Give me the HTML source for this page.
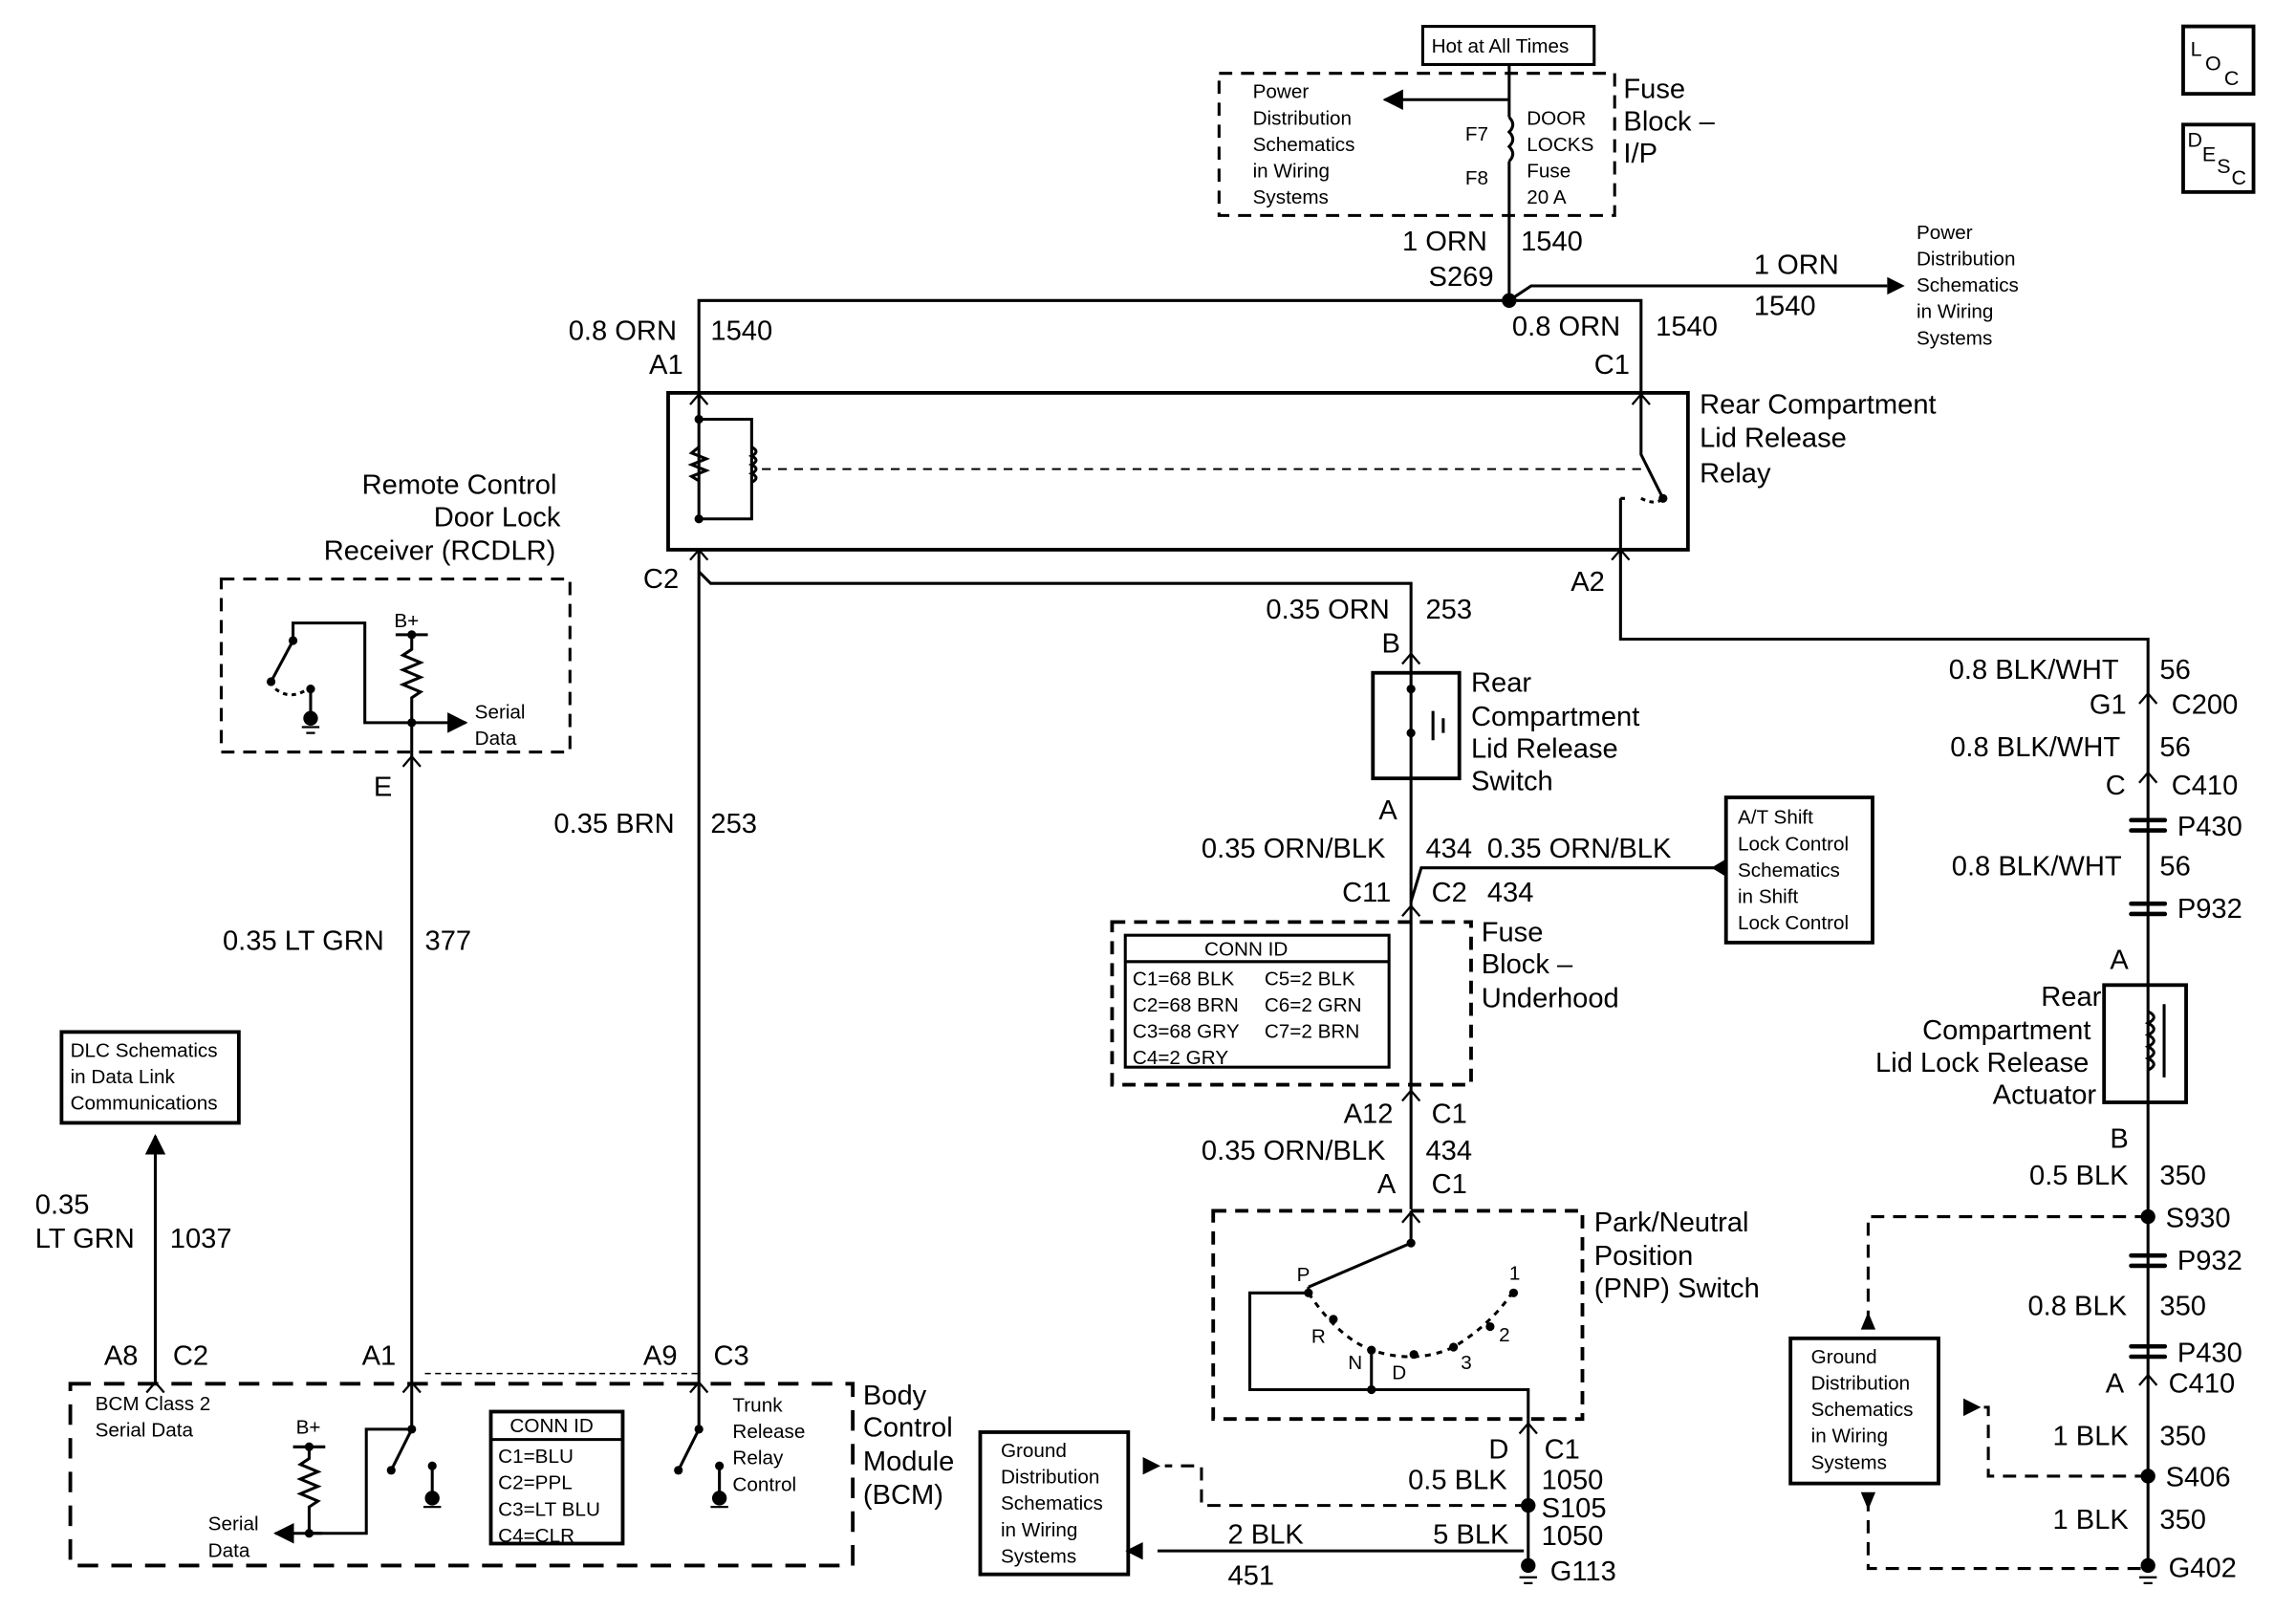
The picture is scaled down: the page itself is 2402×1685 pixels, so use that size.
<!DOCTYPE html>
<html><head><meta charset="utf-8"><style>
html,body{margin:0;padding:0;background:#fff}
svg{display:block}
text{font-family:"Liberation Sans",sans-serif;fill:#000}
.L{font-size:19px}
.S{font-size:13.5px}
</style></head><body>
<svg width="2402" height="1685" viewBox="0 0 1567 1099" preserveAspectRatio="none" xmlns="http://www.w3.org/2000/svg">
<defs>
<marker id="ar" viewBox="0 0 10 10" refX="9" refY="5" markerWidth="7" markerHeight="7" orient="auto-start-reverse"><path d="M0,0L10,5L0,10z" fill="#000"/></marker>
</defs>
<g fill="none" stroke="#000" stroke-width="2">
<rect x="971" y="18" width="117" height="26"/>
<rect x="832" y="50" width="270" height="97" stroke-dasharray="9,6"/>
<line x1="1030" y1="44" x2="1030" y2="80"/>
<path d="M1030,80 q5,5 0,10 q5,5 0,10 q5,5 0,10"/>
<line x1="1030" y1="110" x2="1030" y2="205"/>
<line x1="1030" y1="68" x2="945" y2="68" marker-end="url(#ar)"/>
<path d="M477,268V205H1120V268"/>
<path d="M1030,205L1045,195H1288"/>
<rect x="456" y="268" width="696" height="107" stroke-width="2.5"/>
<path d="M477,268v85M477,286h36v68h-36"/>
<path d="M477,305l-5,4l10,4l-10,4l10,4l-10,4l5,3" />
<path d="M513,305q6,3 0,6q6,3 0,6q6,3 0,6q6,3 0,6"/>
<line x1="520" y1="320" x2="1120" y2="320" stroke-dasharray="6,5" stroke-width="1.3"/>
<path d="M1120,268v42l15,30M1106,340v40"/>
<path d="M1106,340h5M1120,340q10,5 15,0" stroke-dasharray="3,3"/>
<path d="M477,375V945"/>
<path d="M477,390l8,8H963V445"/>
<path d="M1106,375V436H1466V1070"/>
<rect x="151" y="395" width="238" height="118" stroke-dasharray="9,6"/>
<path d="M200,437V425H249V493H281"/>
<path d="M200,437l-15,28M212,470v18"/>
<path d="M188,470q10,8 22,0" stroke-dasharray="3,3"/>
<path d="M270,433h22M281,433v10l-6,4l12,5l-12,5l12,5l-12,5l12,5l-6,4v16"/>
<line x1="281" y1="493" x2="318" y2="493" marker-end="url(#ar)"/>
<path d="M281,493V945"/>
<rect x="42" y="704" width="121" height="62" stroke-width="2.5"/>
<line x1="106" y1="945" x2="106" y2="775" marker-end="url(#ar)"/>
<rect x="48" y="944" width="534" height="124" stroke-dasharray="14,9" stroke-width="2.5"/>
<line x1="290" y1="937" x2="477" y2="937" stroke-dasharray="4,3" stroke-width="1"/>
<path d="M281,945V975H250V1046H210"/>
<line x1="220" y1="1046" x2="188" y2="1046" marker-end="url(#ar)"/>
<path d="M200,987h22M211,987v8l-6,4l12,5l-12,5l12,5l-12,5l12,5l-6,4v18"/>
<path d="M281,975l-14,28M295,1000v20"/>
<rect x="335" y="963" width="90" height="90" stroke-width="2.5"/>
<line x1="335" y1="982" x2="425" y2="982"/>
<path d="M477,945V975l-14,28M491,1000v20"/>
<rect x="937" y="459" width="59" height="72" stroke-width="2.5"/>
<path d="M963,445V531M963,470v15M963,500v15M978,485v20M985,490v10"/>
<path d="M963,531V825"/>
<rect x="759" y="629" width="245" height="111" stroke-dasharray="9,6" stroke-width="2.5"/>
<rect x="768" y="638" width="180" height="90" stroke-width="2"/>
<line x1="768" y1="656" x2="948" y2="656"/>
<rect x="1178" y="544" width="100" height="99" stroke-width="2.5"/>
<path d="M1170,592H970L963,615"/>
<rect x="828" y="826" width="252" height="142" stroke-dasharray="9,6" stroke-width="2.5"/>
<path d="M963,826V848l-70,30"/>
<path d="M893,878V882H853V948H936V921M936,948H1043V968"/>
<path d="M893,882q20,30 43,39q30,10 56,-2q25,-15 40,-37" stroke-dasharray="4,4"/>
<path d="M1043,968V1070"/>
<rect x="1436" y="672" width="56" height="80" stroke-width="2.5"/>
<path d="M1466,690q8,4 0,8q8,4 0,8q8,4 0,8q8,4 0,8q8,4 0,8M1477,685v50"/>
<path d="M1466,830H1275V905" stroke-dasharray="9,6"/>
<rect x="1222" y="913" width="101" height="99" stroke-width="2.5"/>
<path d="M1466,1007H1357V960H1352" stroke-dasharray="9,6"/>
<path d="M1275,1022V1070H1466" stroke-dasharray="9,6"/>
<rect x="669" y="977" width="101" height="97" stroke-width="2.5"/>
<path d="M1043,1027H820V1000H795" stroke-dasharray="9,6"/>
<path d="M1040,1058H790"/>
<rect x="1490" y="18" width="48" height="46" stroke-width="2.5"/>
<rect x="1490" y="85" width="48" height="46" stroke-width="2.5"/>
</g>
<g fill="#000">
<path d="M1288,189l12,6l-12,6z"/>
<path d="M1168,586l10,6l-10,6z" transform="rotate(180 1173 592)"/>
<path d="M780,994l12,6l-12,6z"/>
<path d="M780,1052l-12,6l12,6z"/>
<path d="M1270,907h10l-5,-12z"/>
<path d="M1270,1018h10l-5,12z"/>
<path d="M1340,954v12l12,-6z"/>
<circle cx="1030" cy="205" r="5"/><circle cx="1466" cy="830" r="5"/><circle cx="1466" cy="1007" r="5"/><circle cx="1043" cy="1027" r="5"/>
<circle cx="1043" cy="1068" r="5"/><circle cx="1466" cy="1068" r="5"/>
<circle cx="477" cy="286" r="3"/><circle cx="477" cy="354" r="3"/><circle cx="1135" cy="340" r="3"/>
<circle cx="200" cy="437" r="3"/><circle cx="185" cy="465" r="3"/><circle cx="212" cy="470" r="3"/><circle cx="212" cy="490" r="5"/><circle cx="281" cy="433" r="3"/><circle cx="281" cy="493" r="3"/>
<circle cx="281" cy="975" r="3"/><circle cx="267" cy="1003" r="3"/><circle cx="295" cy="1000" r="3"/><circle cx="295" cy="1022" r="5"/><circle cx="211" cy="987" r="3"/><circle cx="211" cy="1046" r="3"/>
<circle cx="477" cy="975" r="3"/><circle cx="463" cy="1003" r="3"/><circle cx="491" cy="1000" r="3"/><circle cx="491" cy="1022" r="5"/>
<circle cx="963" cy="470" r="3"/><circle cx="963" cy="500" r="3"/>
<circle cx="963" cy="848" r="3"/><circle cx="893" cy="882" r="3"/><circle cx="936" cy="921" r="3"/><circle cx="936" cy="948" r="3"/><circle cx="965" cy="924" r="3"/><circle cx="992" cy="919" r="3"/><circle cx="1017" cy="905" r="3"/><circle cx="1033" cy="882" r="3"/><circle cx="910" cy="900" r="3"/>
<rect x="1453" y="558" width="26" height="3" rx="1.5"/><rect x="1453" y="565" width="26" height="3" rx="1.5"/>
<rect x="1453" y="615" width="26" height="3" rx="1.5"/><rect x="1453" y="622" width="26" height="3" rx="1.5"/>
<rect x="1453" y="855" width="26" height="3" rx="1.5"/><rect x="1453" y="862" width="26" height="3" rx="1.5"/>
<rect x="1453" y="917" width="26" height="3" rx="1.5"/><rect x="1453" y="924" width="26" height="3" rx="1.5"/>
</g>
<g fill="none" stroke="#000" stroke-width="1.5">
<path d="M471,276l6,-7l6,7M471,382l6,-7l6,7M1114,276l6,-7l6,7M1100,382l6,-7l6,7M957,453l6,-7l6,7M957,625l6,-7l6,7M957,751l6,-7l6,7M957,834l6,-7l6,7"/>
<path d="M275,523l6,-7l6,7M275,950l6,-7l6,7M471,950l6,-7l6,7M100,950l6,-7l6,7M1460,480l6,-7l6,7M1460,534l6,-7l6,7M1037,978l6,-7l6,7M1460,945l6,-7l6,7"/>
<path d="M1037,1076h12M1040,1080h6M1460,1076h12M1463,1080h6M206,496h12M209,500h6M289,1028h12M485,1028h12"/>
</g>
<g class="S">
<text x="977" y="36">Hot at All Times</text>
<text x="855" y="67">Power</text><text x="855" y="85">Distribution</text><text x="855" y="103">Schematics</text><text x="855" y="121">in Wiring</text><text x="855" y="139">Systems</text>
<text x="1000" y="96">F7</text><text x="1000" y="126">F8</text>
<text x="1042" y="85">DOOR</text><text x="1042" y="103">LOCKS</text><text x="1042" y="121">Fuse</text><text x="1042" y="139">20 A</text>
<text x="1308" y="163">Power</text><text x="1308" y="181">Distribution</text><text x="1308" y="199">Schematics</text><text x="1308" y="217">in Wiring</text><text x="1308" y="235">Systems</text>
<text x="269" y="428">B+</text><text x="324" y="490">Serial</text><text x="324" y="508">Data</text>
<text x="48" y="721">DLC Schematics</text><text x="48" y="739">in Data Link</text><text x="48" y="757">Communications</text>
<text x="65" y="962">BCM Class 2</text><text x="65" y="980">Serial Data</text>
<text x="202" y="978">B+</text><text x="142" y="1044">Serial</text><text x="142" y="1062">Data</text>
<text x="348" y="977">CONN ID</text><text x="340" y="998">C1=BLU</text><text x="340" y="1016">C2=PPL</text><text x="340" y="1034">C3=LT BLU</text><text x="340" y="1052">C4=CLR</text>
<text x="500" y="963">Trunk</text><text x="500" y="981">Release</text><text x="500" y="999">Relay</text><text x="500" y="1017">Control</text>
<text x="822" y="652">CONN ID</text>
<text x="773" y="672">C1=68 BLK</text><text x="863" y="672">C5=2 BLK</text>
<text x="773" y="690">C2=68 BRN</text><text x="863" y="690">C6=2 GRN</text>
<text x="773" y="708">C3=68 GRY</text><text x="863" y="708">C7=2 BRN</text>
<text x="773" y="726">C4=2 GRY</text>
<text x="1186" y="562">A/T Shift</text><text x="1186" y="580">Lock Control</text><text x="1186" y="598">Schematics</text><text x="1186" y="616">in Shift</text><text x="1186" y="634">Lock Control</text>
<text x="885" y="874">P</text><text x="895" y="916">R</text><text x="920" y="934">N</text><text x="950" y="941">D</text><text x="997" y="934">3</text><text x="1023" y="915">2</text><text x="1030" y="873">1</text>
<text x="1236" y="930">Ground</text><text x="1236" y="948">Distribution</text><text x="1236" y="966">Schematics</text><text x="1236" y="984">in Wiring</text><text x="1236" y="1002">Systems</text>
<text x="683" y="994">Ground</text><text x="683" y="1012">Distribution</text><text x="683" y="1030">Schematics</text><text x="683" y="1048">in Wiring</text><text x="683" y="1066">Systems</text>
</g>
<g class="L">
<text x="1108" y="67">Fuse</text><text x="1108" y="89">Block –</text><text x="1108" y="111">I/P</text>
<text x="957" y="171">1 ORN</text><text x="1038" y="171">1540</text>
<text x="975" y="195">S269</text>
<text x="1197" y="187">1 ORN</text><text x="1197" y="215">1540</text>
<text x="388" y="232">0.8 ORN</text><text x="485" y="232">1540</text><text x="443" y="255">A1</text>
<text x="1032" y="229">0.8 ORN</text><text x="1130" y="229">1540</text><text x="1088" y="255">C1</text>
<text x="1160" y="282">Rear Compartment</text><text x="1160" y="305">Lid Release</text><text x="1160" y="329">Relay</text>
<text x="247" y="337">Remote Control</text><text x="296" y="359">Door Lock</text><text x="221" y="382">Receiver (RCDLR)</text>
<text x="439" y="401">C2</text><text x="1072" y="403">A2</text>
<text x="864" y="422">0.35 ORN</text><text x="973" y="422">253</text><text x="943" y="445">B</text>
<text x="1330" y="463">0.8 BLK/WHT</text><text x="1474" y="463">56</text><text x="1426" y="487">G1</text><text x="1482" y="487">C200</text>
<text x="1004" y="472">Rear</text><text x="1004" y="495">Compartment</text><text x="1004" y="517">Lid Release</text><text x="1004" y="539">Switch</text>
<text x="1331" y="516">0.8 BLK/WHT</text><text x="1474" y="516">56</text><text x="1437" y="542">C</text><text x="1482" y="542">C410</text>
<text x="255" y="543">E</text>
<text x="378" y="568">0.35 BRN</text><text x="485" y="568">253</text>
<text x="941" y="559">A</text>
<text x="1486" y="570">P430</text>
<text x="820" y="585">0.35 ORN/BLK</text><text x="973" y="585">434</text><text x="1015" y="585">0.35 ORN/BLK</text>
<text x="1332" y="597">0.8 BLK/WHT</text><text x="1474" y="597">56</text>
<text x="916" y="615">C11</text><text x="977" y="615">C2</text><text x="1015" y="615">434</text>
<text x="1486" y="626">P932</text>
<text x="1011" y="642">Fuse</text><text x="1011" y="664">Block –</text><text x="1011" y="687">Underhood</text>
<text x="152" y="648">0.35 LT GRN</text><text x="290" y="648">377</text>
<text x="1440" y="661">A</text>
<text x="1393" y="686">Rear</text><text x="1312" y="709">Compartment</text><text x="1280" y="731">Lid Lock Release</text><text x="1360" y="753">Actuator</text>
<text x="917" y="766">A12</text><text x="977" y="766">C1</text>
<text x="1440" y="783">B</text>
<text x="820" y="791">0.35 ORN/BLK</text><text x="973" y="791">434</text>
<text x="1385" y="808">0.5 BLK</text><text x="1474" y="808">350</text>
<text x="940" y="814">A</text><text x="977" y="814">C1</text>
<text x="1478" y="837">S930</text>
<text x="1088" y="840">Park/Neutral</text><text x="1088" y="863">Position</text><text x="1088" y="885">(PNP) Switch</text>
<text x="24" y="828">0.35</text><text x="24" y="851">LT GRN</text><text x="116" y="851">1037</text>
<text x="1486" y="866">P932</text>
<text x="1384" y="897">0.8 BLK</text><text x="1474" y="897">350</text>
<text x="71" y="931">A8</text><text x="118" y="931">C2</text><text x="247" y="931">A1</text><text x="439" y="931">A9</text><text x="487" y="931">C3</text>
<text x="1486" y="929">P430</text>
<text x="589" y="958">Body</text><text x="589" y="980">Control</text><text x="589" y="1003">Module</text><text x="589" y="1026">(BCM)</text>
<text x="1437" y="950">A</text><text x="1480" y="950">C410</text>
<text x="1016" y="995">D</text><text x="1054" y="995">C1</text>
<text x="1401" y="986">1 BLK</text><text x="1474" y="986">350</text>
<text x="961" y="1016">0.5 BLK</text><text x="1052" y="1016">1050</text>
<text x="1478" y="1014">S406</text>
<text x="1052" y="1035">S105</text>
<text x="1401" y="1043">1 BLK</text><text x="1474" y="1043">350</text>
<text x="838" y="1053">2 BLK</text><text x="978" y="1053">5 BLK</text><text x="1052" y="1054">1050</text>
<text x="838" y="1081">451</text>
<text x="1058" y="1078">G113</text><text x="1480" y="1076">G402</text>
<text x="1495" y="38" style="font-size:14px">L</text><text x="1505" y="48" style="font-size:14px">O</text><text x="1518" y="58" style="font-size:14px">C</text>
<text x="1493" y="100" style="font-size:14px">D</text><text x="1503" y="110" style="font-size:14px">E</text><text x="1513" y="118" style="font-size:14px">S</text><text x="1523" y="126" style="font-size:14px">C</text>
</g>
</svg>
</body></html>
